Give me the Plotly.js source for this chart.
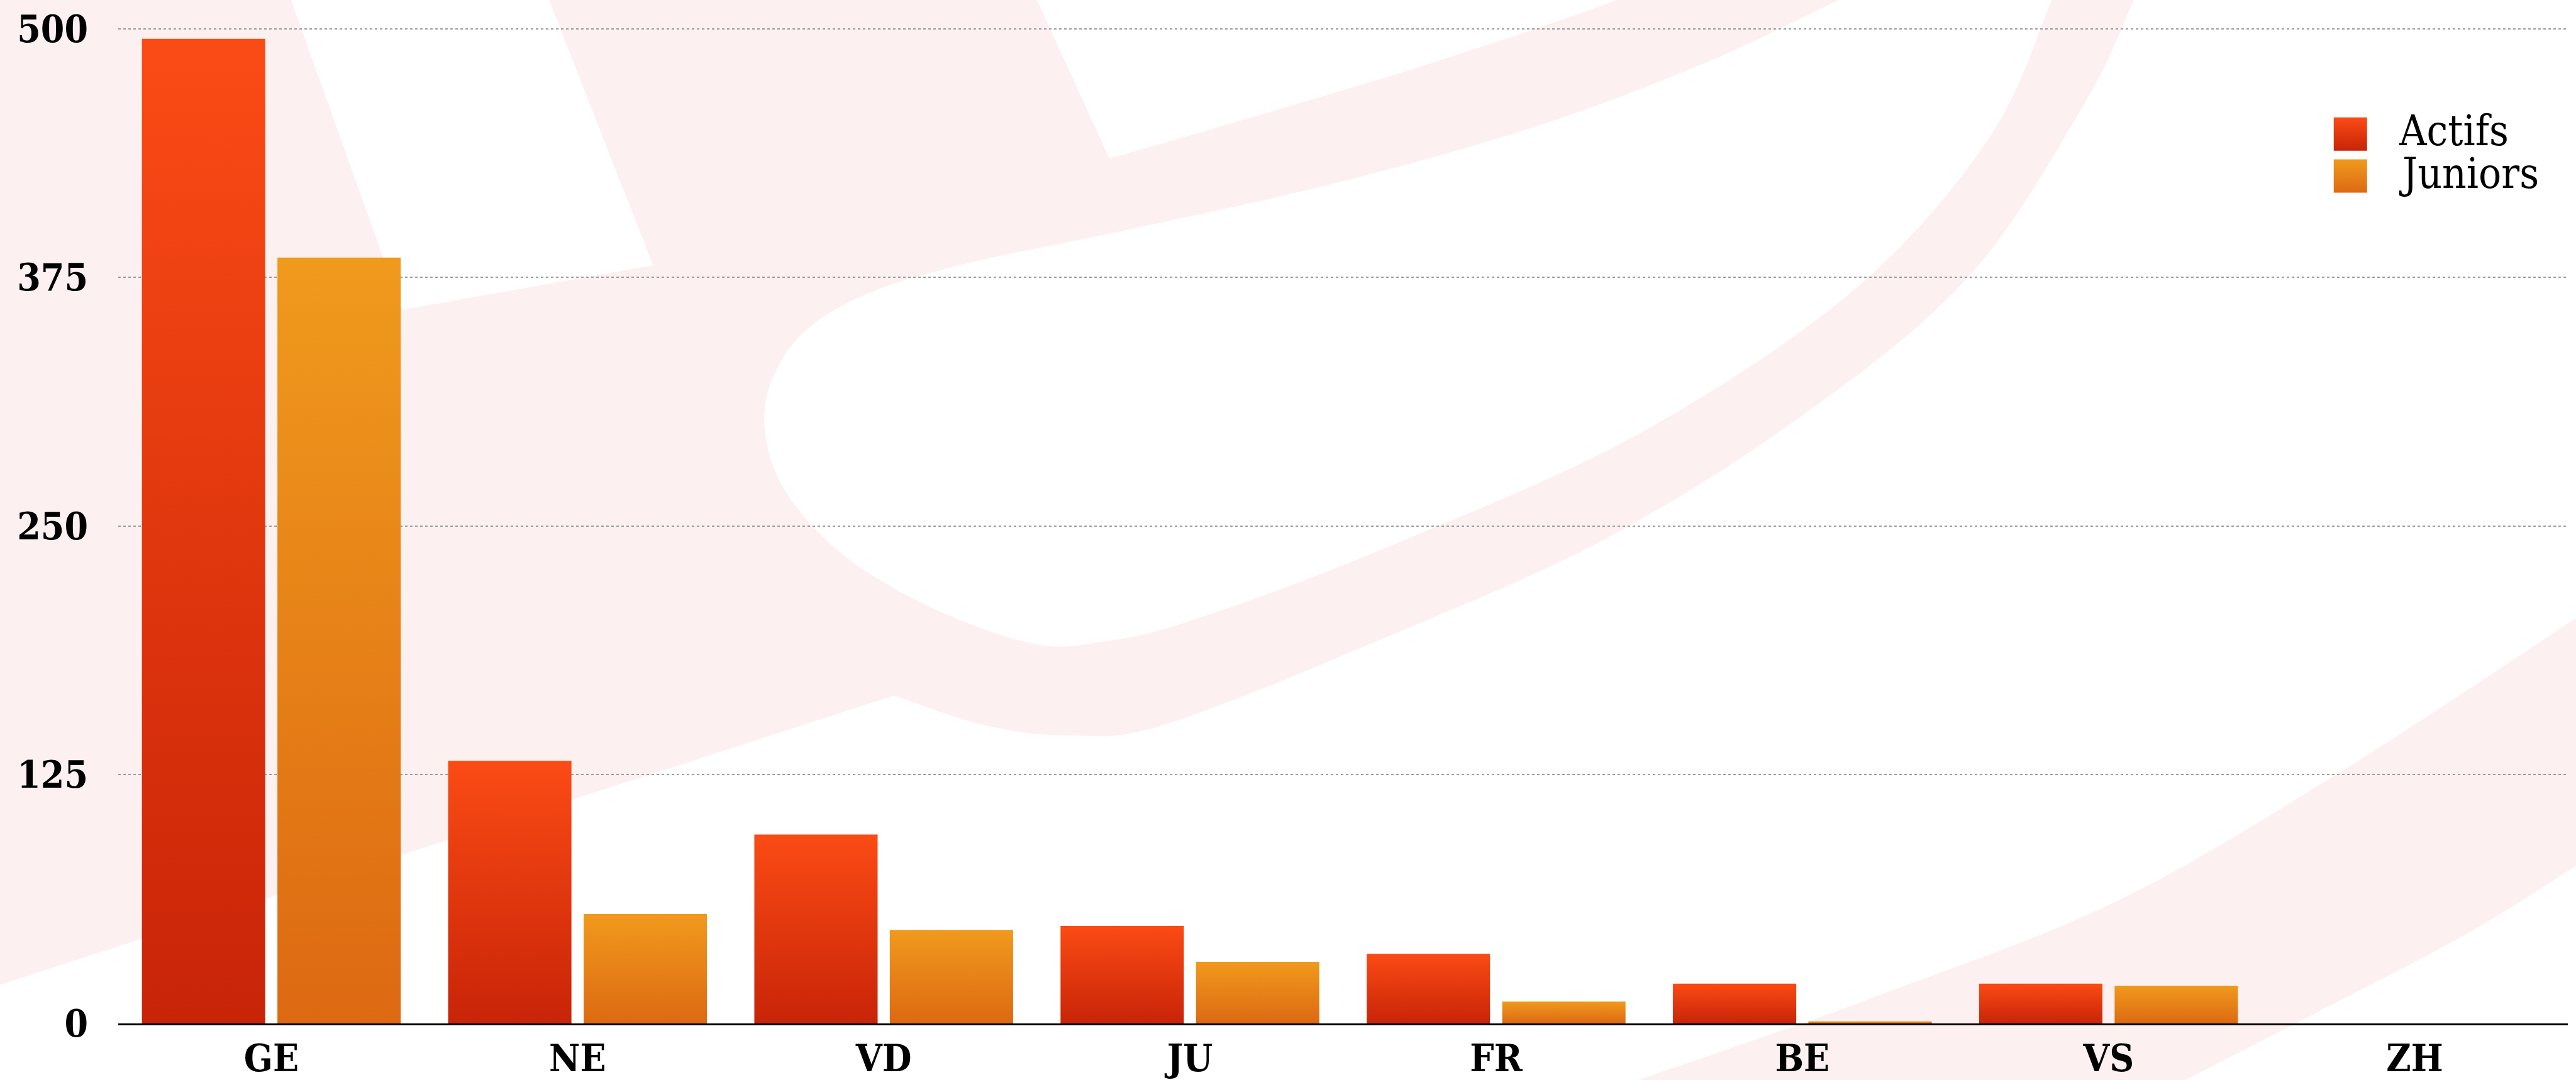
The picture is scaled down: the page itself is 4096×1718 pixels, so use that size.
<!DOCTYPE html>
<html>
<head>
<meta charset="utf-8">
<script src="https://cdn.plot.ly/plotly-3.0.1.min.js"></script>
<style>
html,body{margin:0;padding:0;background:#ffffff;}
#chart{width:4096px;height:1718px;}
</style>
</head>
<body>
<div id="chart"></div>
<script>
// ---------- data ----------
const cantons = ['GE','NE','VD','JU','FR','BE','VS','ZH'];
const actifs  = [495, 132, 95, 49, 35, 20, 20, 0];
const juniors = [385, 55, 47, 31, 11, 1, 19, 0];
const yTickVals = [0, 125, 250, 375, 500];
const yTickText = ['0', '125', '250', '375', '500'];
const seriesNames = ['Actifs', 'Juniors'];

// ---------- geometry ----------
const W = 4096, H = 1718;
const L = 188.4, R = 12.8, T = 29.7, B = 90.3;
const plotW = W - L - R, plotH = H - T - B;
const S = 0.928;
const FONT = 'DejaVu Serif Condensed, DejaVu Serif, serif';

function px(xs){ return (xs - L) / plotW; }
function py(ys){ return (H - B - ys) / plotH; }
// overview units (1568 x 1568 view of the reference) -> paper
function ov(p){ return [px(p[0] * 2.8125 * S), py(p[1] * 1.18 * S)]; }

function fmt(p){ return p[0].toFixed(5) + ',' + p[1].toFixed(5); }
function buildPath(segs){
  let d = '';
  let first = true;
  segs.forEach(seg => {
    const pts = seg.pts.map(ov);
    if (first){ d += 'M' + fmt(pts[0]); first = false; }
    if (!seg.s){
      for (let i = 1; i < pts.length; i++) d += ' L' + fmt(pts[i]);
    } else {
      for (let i = 0; i < pts.length - 1; i++){
        const p0 = pts[i-1] || pts[i], p1 = pts[i], p2 = pts[i+1], p3 = pts[i+2] || pts[i+1];
        const c1 = [p1[0] + (p2[0]-p0[0])/6, p1[1] + (p2[1]-p0[1])/6];
        const c2 = [p2[0] - (p3[0]-p1[0])/6, p2[1] - (p3[1]-p1[1])/6];
        d += ' C' + fmt(c1) + ' ' + fmt(c2) + ' ' + fmt(p2);
      }
    }
  });
  return d + ' Z';
}

const PINK = '#fcf0f1';
const wm = [
  { fill: PINK, segs: [
    {s:false, pts:[[-10,-10],[1302,-10]]},
    {s:true,  pts:[[1302,-10],[1300,0],[1270,150],[1200,400],[1100,600],[980,780],[850,920],[710,1052],[650,1068],[598,1052],[545,1010]]},
    {s:false, pts:[[545,1010],[-10,1438]]}
  ]},
  { fill: '#ffffff', segs: [
    {s:false, pts:[[176,-10],[333,-10],[398,385],[245,450]]}
  ]},
  { fill: '#ffffff', segs: [
    {s:false, pts:[[630,-10],[992,-10]]},
    {s:true,  pts:[[992,-10],[985,0],[925,50],[850,108],[760,172],[676,230]]},
    {s:false, pts:[[676,230],[630,-10]]}
  ]},
  { fill: '#ffffff', segs: [
    {s:true, pts:[[1130,-10],[1120,0],[1040,90],[940,180],[820,262],[690,332],[590,382],[530,425],[490,482],[469,560],[467,640],[481,722],[516,810],[570,885],[630,935],[672,932],[730,898],[850,790],[1000,628],[1130,420],[1212,200],[1250,0],[1252,-10]]}
  ]},
  { fill: PINK, segs: [
    {s:false, pts:[[1600,860],[1568,900]]},
    {s:true,  pts:[[1568,900],[1420,1130],[1286,1313],[1140,1450],[1072,1508],[990,1575]]},
    {s:false, pts:[[990,1575],[980,1600],[1320,1600],[1332,1568]]},
    {s:true,  pts:[[1332,1568],[1420,1460],[1503,1356],[1568,1260]]},
    {s:false, pts:[[1568,1260],[1600,1220]]}
  ]}
];

const shapes = wm.map(w => ({
  type: 'path', xref: 'paper', yref: 'paper', layer: 'below',
  path: buildPath(w.segs), fillcolor: w.fill, line: {width: 0}
}));

// legend squares (custom legend)
const legSq = [
  {x0: 3711, x1: 3764, y0: 186.5, y1: 239.4},
  {x0: 3711, x1: 3764, y0: 253.3, y1: 306.2}
];
const legendShapeStart = shapes.length;
legSq.forEach((q, i) => shapes.push({
  type: 'rect', xref: 'paper', yref: 'paper', layer: 'above',
  x0: px(q.x0), x1: px(q.x1), y0: py(q.y1), y1: py(q.y0),
  fillcolor: i === 0 ? '#e2400f' : '#e88219', line: {width: 0}
}));

const annotations = seriesNames.map((n, i) => ({
  xref: 'paper', yref: 'paper', x: px(3812), y: py(i === 0 ? 207.8 : 275.8),
  xanchor: 'left', yanchor: 'middle', showarrow: false, text: n,
  font: {family: FONT, size: 67, color: '#000000'}
}));

const data = [
  {type: 'bar', name: seriesNames[0], x: cantons, y: actifs,
   marker: {color: '#e2400f', line: {width: 0}}, hoverinfo: 'x+y+name'},
  {type: 'bar', name: seriesNames[1], x: cantons, y: juniors,
   marker: {color: '#e88219', line: {width: 0}}, hoverinfo: 'x+y+name'}
];

const layout = {
  width: W, height: H,
  margin: {l: L, r: R, t: T, b: B, pad: 0},
  paper_bgcolor: '#ffffff', plot_bgcolor: 'rgba(0,0,0,0)',
  barmode: 'group', bargap: 0.115, bargroupgap: 0.09,
  showlegend: false,
  xaxis: {
    type: 'category', showline: true, linecolor: '#000000', linewidth: 3,
    showgrid: false, zeroline: false, ticks: '',
    ticklabelstandoff: 1,
    tickfont: {family: FONT, size: 60, color: '#000000', weight: 'bold'}
  },
  yaxis: {
    range: [0, 505], tickmode: 'array', tickvals: yTickVals, ticktext: yTickText,
    showgrid: true, gridcolor: '#9c9c9c', gridwidth: 2, griddash: '4px,4px',
    zeroline: false, showline: false, ticks: '',
    ticklabelstandoff: 47,
    tickfont: {family: FONT, size: 60, color: '#000000', weight: 'bold'}
  },
  shapes: shapes,
  annotations: annotations
};

const gd = document.getElementById('chart');
Plotly.newPlot(gd, data, layout, {staticPlot: true, displayModeBar: false}).then(() => {
  const NS = 'http://www.w3.org/2000/svg';
  const svg = gd.querySelector('svg.main-svg');
  let defs = svg.querySelector('defs');
  if (!defs){ defs = document.createElementNS(NS, 'defs'); svg.insertBefore(defs, svg.firstChild); }
  function grad(id, top, bot){
    const g = document.createElementNS(NS, 'linearGradient');
    g.setAttribute('id', id);
    g.setAttribute('x1', '0'); g.setAttribute('y1', '0');
    g.setAttribute('x2', '0'); g.setAttribute('y2', '1');
    [[0, top], [1, bot]].forEach(([o, c]) => {
      const s = document.createElementNS(NS, 'stop');
      s.setAttribute('offset', o); s.setAttribute('stop-color', c);
      g.appendChild(s);
    });
    defs.appendChild(g);
  }
  grad('gradActifs', '#fb4b15', '#c82408');
  grad('gradJuniors', '#f09a1d', '#dd6912');
  const ids = ['gradActifs', 'gradJuniors'];
  gd.querySelectorAll('.barlayer .trace').forEach((t, i) => {
    t.querySelectorAll('path').forEach(p => { p.style.fill = 'url(#' + ids[i] + ')'; });
  });
  for (let i = 0; i < 2; i++){
    const p = gd.querySelector('path[data-index="' + (legendShapeStart + i) + '"]');
    if (p) p.style.fill = 'url(#' + ids[i] + ')';
  }
});
</script>
</body>
</html>
